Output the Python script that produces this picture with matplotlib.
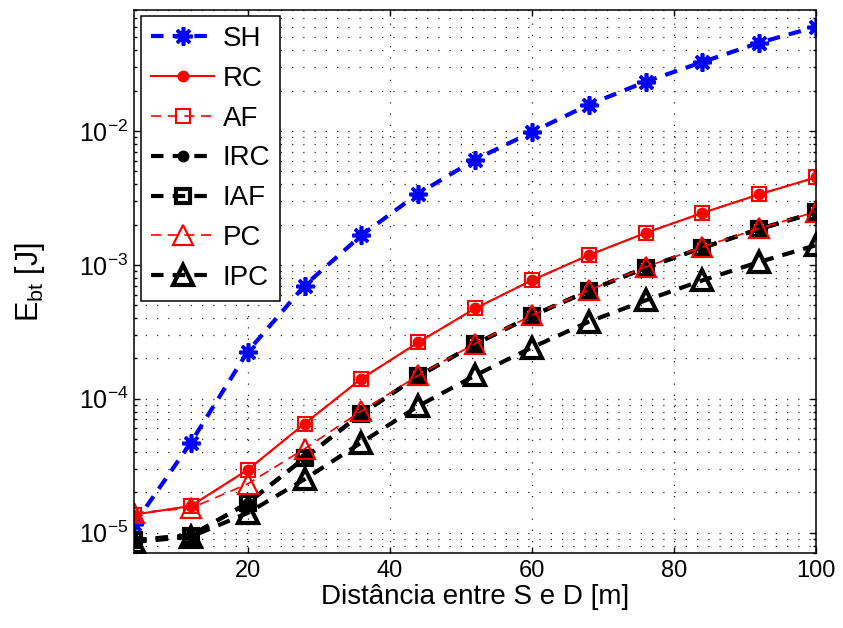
import numpy as np
import matplotlib.pyplot as plt
from matplotlib.ticker import LogLocator, NullFormatter

plt.rcParams['font.family'] = ['Liberation Sans', 'DejaVu Sans']
plt.rcParams['mathtext.fontset'] = 'custom'
plt.rcParams['mathtext.rm'] = 'Liberation Sans'
plt.rcParams['mathtext.it'] = 'Liberation Sans:italic'

# Distance between source and destination [m]
dist = [4, 12, 20, 28, 36, 44, 52, 60, 68, 76, 84, 92, 100]

# Energy per bit [J] for each scheme
sh = [1.15e-5, 4.7e-5, 2.25e-4, 7.0e-4, 1.66e-3, 3.4e-3, 6.1e-3,
      9.8e-3, 1.57e-2, 2.33e-2, 3.27e-2, 4.56e-2, 6.0e-2]
rc = [1.36e-5, 1.58e-5, 2.94e-5, 6.5e-5, 1.41e-4, 2.63e-4, 4.72e-4,
      7.66e-4, 1.18e-3, 1.73e-3, 2.44e-3, 3.36e-3, 4.5e-3]
af = [1.36e-5, 1.58e-5, 2.94e-5, 6.5e-5, 1.41e-4, 2.63e-4, 4.72e-4,
      7.66e-4, 1.18e-3, 1.73e-3, 2.44e-3, 3.36e-3, 4.5e-3]
irc = [8.8e-6, 9.5e-6, 1.66e-5, 3.6e-5, 7.7e-5, 1.47e-4, 2.55e-4,
       4.15e-4, 6.4e-4, 9.5e-4, 1.34e-3, 1.85e-3, 2.47e-3]
iaf = [8.8e-6, 9.5e-6, 1.66e-5, 3.6e-5, 7.7e-5, 1.47e-4, 2.55e-4,
       4.15e-4, 6.4e-4, 9.5e-4, 1.34e-3, 1.85e-3, 2.47e-3]
pc = [1.4e-5, 1.52e-5, 2.31e-5, 4.22e-5, 8.1e-5, 1.49e-4, 2.58e-4,
      4.19e-4, 6.44e-4, 9.64e-4, 1.36e-3, 1.87e-3, 2.49e-3]
ipc = [8.5e-6, 9.3e-6, 1.4e-5, 2.5e-5, 4.7e-5, 8.8e-5, 1.49e-4,
       2.41e-4, 3.75e-4, 5.42e-4, 7.65e-4, 1.05e-3, 1.40e-3]

fig = plt.figure(figsize=(8.43, 6.28), dpi=100)
ax = fig.add_axes([0.159, 0.119, 0.809, 0.865])

dash = (0, (3, 2.2))
thin = (0, (6, 4))
ax.plot(dist, sh, color='b', ls=dash, lw=3, marker=(8, 2, 0), ms=13, mew=2.6,
        label='SH')
ax.plot(dist, rc, color='r', ls='-', lw=1.5, marker='o', ms=7.5,
        label='RC')
ax.plot(dist, af, color='r', ls=thin, lw=1.2, marker='s', ms=10.5,
        mfc='none', mew=1.5, label='AF')
ax.plot(dist, irc, color='k', ls=dash, lw=3, marker='o', ms=7.5,
        label='IRC')
ax.plot(dist, iaf, color='k', ls=dash, lw=3, marker='s', ms=10,
        mfc='none', mew=3, label='IAF')
ax.plot(dist, pc, color='r', ls=thin, lw=1.2, marker='^', ms=15,
        mfc='none', mew=1.6, label='PC')
ax.plot(dist, ipc, color='k', ls=dash, lw=3, marker='^', ms=15,
        mfc='none', mew=3, label='IPC')

ax.set_yscale('log')
ax.set_xlim(4, 100)
ax.set_ylim(7e-6, 8e-2)
ax.set_xticks([20, 40, 60, 80, 100])
ax.yaxis.set_major_locator(LogLocator(base=10, numticks=10))
ax.yaxis.set_minor_locator(LogLocator(base=10, subs=np.arange(2, 10), numticks=10))
ax.yaxis.set_minor_formatter(NullFormatter())

ax.grid(True, which='major', axis='x', color='0.15', ls=(0, (1, 8)), lw=0.9)
ax.grid(True, which='both', axis='y', color='0.15', ls=(0, (1, 8)), lw=0.9)

ax.tick_params(which='both', direction='in', top=True, right=True)
ax.tick_params(axis='x', labelsize=17, pad=5)
ax.tick_params(axis='y', labelsize=18, pad=4)
ax.tick_params(which='major', length=4.5, width=1)
ax.tick_params(which='minor', length=2, width=1)
for s in ax.spines.values():
    s.set_linewidth(1.1)

ax.set_xlabel('Distância entre S e D [m]', fontsize=20, labelpad=1)
ax.set_ylabel(r'E$_{\mathrm{bt}}$ [J]', fontsize=22)
ax.yaxis.set_label_coords(-0.128, 0.5)

leg = ax.legend(loc='upper left', bbox_to_anchor=(0.01, 0.989),
                borderaxespad=0, fontsize=20, handlelength=2.3,
                handletextpad=0.3, labelspacing=0.5, borderpad=0.35,
                fancybox=False, framealpha=1, edgecolor='k')
leg.get_frame().set_linewidth(1.1)

fig.savefig('out.png', dpi=100)
